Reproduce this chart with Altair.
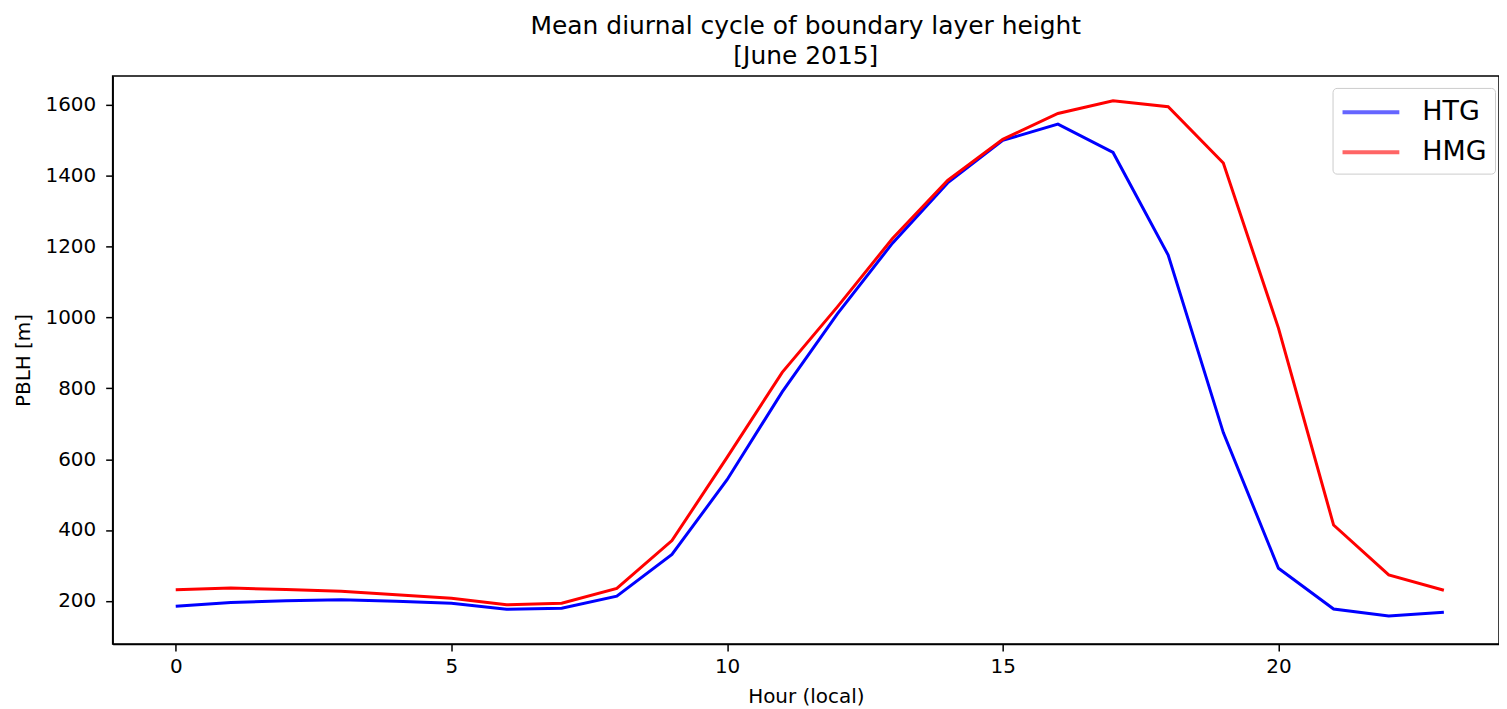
import altair as alt
import pandas as pd

hours = list(range(24))
htg = [185, 195, 200, 203, 199, 193, 176, 179, 213, 331, 542, 790, 1010, 1210,
       1380, 1500, 1546, 1466, 1176, 675, 292, 177, 157, 168]
hmg = [231, 236, 232, 227, 217, 207, 189, 193, 235, 370, 605, 845, 1030, 1223,
       1387, 1503, 1576, 1612, 1595, 1436, 970, 414, 273, 230]
series_names = ["HTG", "HMG"]
series_colors = ["#0000ff", "#ff0000"]
x_ticks = [0, 5, 10, 15, 20]
y_ticks = [200, 400, 600, 800, 1000, 1200, 1400, 1600]

rows = []
for name, vals in zip(series_names, [htg, hmg]):
    for h, v in zip(hours, vals):
        rows.append({"hour": h, "pblh": v, "series": name})
df = pd.DataFrame(rows)

FONT = "DejaVu Sans"

chart = alt.Chart(df).mark_line(strokeWidth=3, clip=True).encode(
    x=alt.X("hour:Q",
            scale=alt.Scale(domain=[-1.144, 24.0], nice=False, zero=False),
            axis=alt.Axis(values=x_ticks, format="d", title="Hour (local)",
                          labelPadding=6, titlePadding=10)),
    y=alt.Y("pblh:Q",
            scale=alt.Scale(domain=[78, 1682], nice=False, zero=False),
            axis=alt.Axis(values=y_ticks, format="d", title="PBLH [m]",
                          labelPadding=10, titlePadding=12)),
    color=alt.Color("series:N",
                    scale=alt.Scale(domain=series_names, range=series_colors),
                    sort=series_names,
                    legend=alt.Legend(title=None, orient="none",
                                      legendX=1224, legendY=12,
                                      symbolType="M-2,0H2", symbolSize=812,
                                      symbolOffset=14, symbolFillColor="transparent",
                                      symbolStrokeWidth=4, symbolOpacity=0.6,
                                      labelFontSize=27, labelFont=FONT,
                                      labelColor="black", labelOffset=35,
                                      rowPadding=10, padding=8,
                                      strokeColor="#cccccc", fillColor="white",
                                      cornerRadius=4)),
    detail="series:N",
).properties(
    width=1391,
    height=570,
    title=alt.TitleParams(
        text=["Mean diurnal cycle of boundary layer height", "[June 2015]"],
        fontSize=25, font=FONT, fontWeight="normal", color="black",
        anchor="middle", lineHeight=30, offset=7),
    autosize=alt.AutoSizeParams(type="none"),
    padding={"left": 105, "top": 67, "right": 0, "bottom": 66},
).configure_axis(
    grid=False,
    labelFont=FONT, labelFontSize=20, labelColor="black",
    titleFont=FONT, titleFontSize=20, titleColor="black", titleFontWeight="normal",
    tickColor="black", tickSize=7, tickWidth=1.5,
    domainColor="black", domainWidth=1.5,
).configure_view(
    stroke="black", strokeWidth=1.5,
)

chart.save("out.html", embed_options={"renderer": "svg", "actions": False})
